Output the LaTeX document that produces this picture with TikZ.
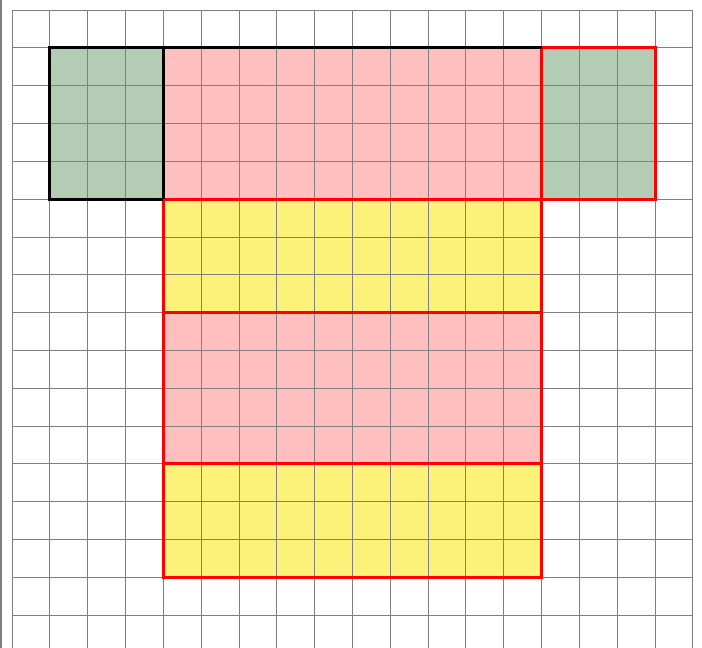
\documentclass[tikz,border=0pt]{standalone}
\usepackage{tikz}

\definecolor{netgreen}{RGB}{179,204,179}
\definecolor{netpink}{RGB}{255,191,191}
\definecolor{netyellow}{RGB}{252,242,122}

\begin{document}
\begin{tikzpicture}[y=-1cm,
    gridline/.style={gray,line width=0.7pt},
    edgeblack/.style={black,line width=2.2pt},
    edgered/.style={red,line width=2.2pt}]
    \useasboundingbox (-0.317,-0.264) rectangle (18.24,16.865);
    \clip (-0.317,-0.264) rectangle (18.24,16.865);
    % faces of the net
    \fill[netgreen] (1,1) rectangle (4,5);
    \fill[netpink] (4,1) rectangle (14,5);
    \fill[netgreen] (14,1) rectangle (17,5);
    \fill[netyellow] (4,5) rectangle (14,8);
    \fill[netpink] (4,8) rectangle (14,12);
    \fill[netyellow] (4,12) rectangle (14,15);
    % squared paper
    \foreach \x in {0,...,18}
    \draw[gridline] (\x,0) -- (\x,17.2);
    \foreach \y in {0,...,17}
    \draw[gridline] (0,\y) -- (18,\y);
    \draw[gray,line width=1.4pt] (-0.29,-0.3) -- (-0.29,17.2);
    % outlines
    \draw[edgered] (14,1) rectangle (17,5);
    \draw[edgered] (4,5) rectangle (14,8);
    \draw[edgered] (4,8) rectangle (14,12);
    \draw[edgered] (4,12) rectangle (14,15);
    \draw[edgeblack] (14,1) -- (1,1) -- (1,5) -- (4,5);
    \draw[edgeblack] (4,1) -- (4,5);
\end{tikzpicture}
\end{document}
